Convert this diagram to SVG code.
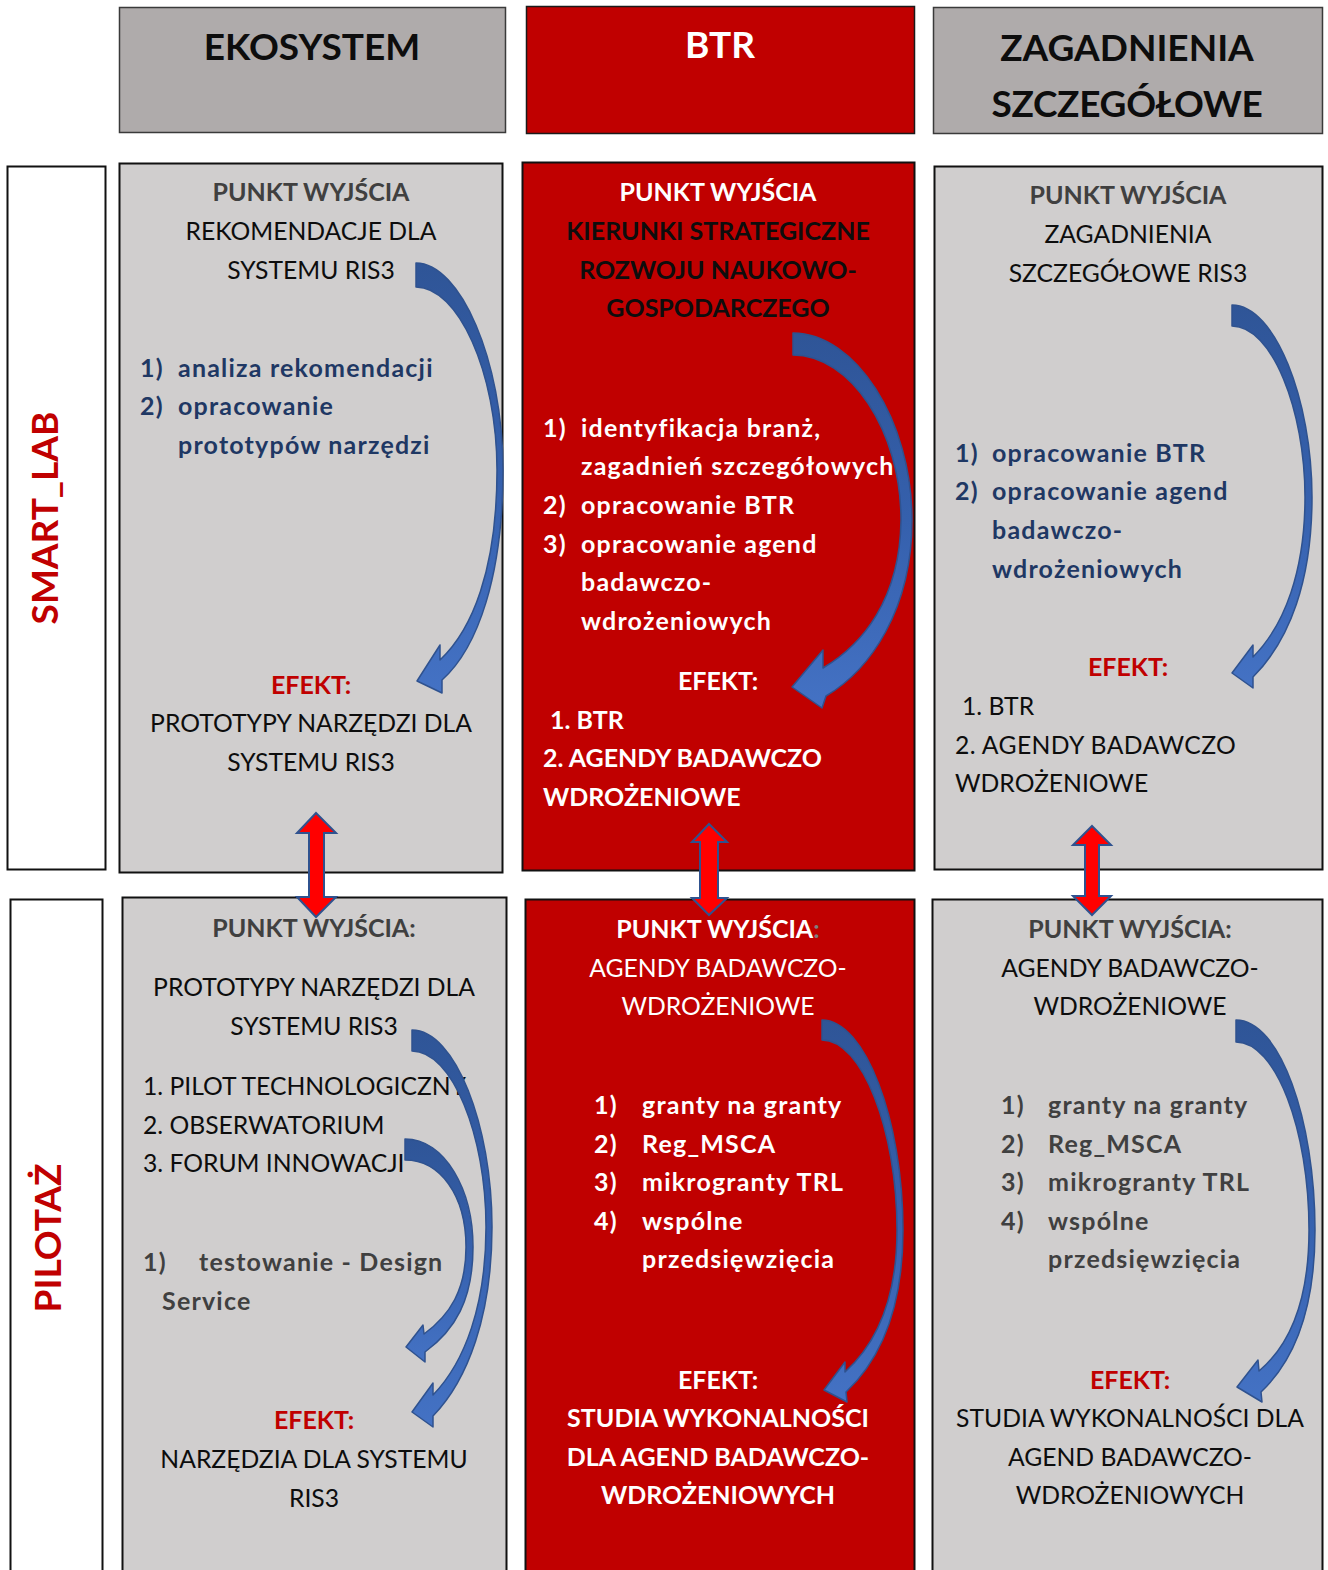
<svg xmlns="http://www.w3.org/2000/svg" width="1328" height="1570" viewBox="0 0 1328 1570">
<defs>
<style>
text{font-family:Lato,"Open Sans","Liberation Sans",sans-serif;font-size:24.7px;fill:#0d0d0d}
.c{text-anchor:middle}
.b{font-weight:bold;font-size:25px;letter-spacing:0px}
.l{font-weight:bold;font-size:25px;letter-spacing:1.2px}
.hd{font-size:37px;font-weight:bold;text-anchor:middle}
.side{font-size:37px;font-weight:bold;fill:#c00000;text-anchor:middle}
.pw{fill:#404040}
.nv{fill:#1f3864}
.gy{fill:#404040}
.ef{fill:#c00000}
.w{fill:#ffffff}
.grayH{fill:#afabab;stroke:#3a3a3a;stroke-width:1.5}
.redH{fill:#c00000;stroke:#1a1a1a;stroke-width:1.5}
.cellG{fill:#d0cece;stroke:#111;stroke-width:2}
.cellR{fill:#c00000;stroke:#111;stroke-width:2}
.lab{fill:#ffffff;stroke:#111;stroke-width:2}
.carrow{fill:url(#bg);stroke:#2f528f;stroke-width:1.5;stroke-linejoin:round}
.darrow{fill:#ff0000;stroke:#2f528f;stroke-width:2;stroke-linejoin:miter}
</style>
<linearGradient id="bg" x1="0" y1="0" x2="0" y2="1">
<stop offset="0" stop-color="#2f5597"/>
<stop offset="0.5" stop-color="#3560ad"/>
<stop offset="1" stop-color="#4472c4"/>
</linearGradient>
</defs>
<rect width="1328" height="1570" fill="#ffffff"/>

<g id="hdr-ekosystem">
<rect class="grayH" x="119.5" y="7.5" width="386" height="125"/>
<text class="hd" x="312" y="60">EKOSYSTEM</text>
</g>
<g id="hdr-btr">
<rect class="redH" x="526.5" y="6.5" width="388" height="127"/>
<text class="hd w" x="720" y="58">BTR</text>
</g>
<g id="hdr-zagadnienia">
<rect class="grayH" x="933.5" y="7.5" width="389" height="126"/>
<text class="hd" x="1127" y="61">ZAGADNIENIA</text>
<text class="hd" x="1127" y="117" letter-spacing="-0.3">SZCZEGÓŁOWE</text>
</g>

<g id="label-smartlab">
<rect class="lab" x="7.5" y="166.5" width="98" height="703"/>
<text class="side" transform="translate(58,518) rotate(-90)">SMART_LAB</text>
</g>
<g id="label-pilotaz">
<rect class="lab" x="10.5" y="899.5" width="92" height="680"/>
<text class="side" transform="translate(61,1238) rotate(-90)">PILOTAŻ</text>
</g>

<g id="cell-smartlab-ekosystem">
<rect class="cellG" x="119.5" y="163.5" width="383" height="709"/>
<text class="c b pw" x="311" y="201">PUNKT WYJŚCIA</text>
<text class="c" x="311" y="240">REKOMENDACJE DLA</text>
<text class="c" x="311" y="279">SYSTEMU RIS3</text>
<text class="l nv" x="140" y="377">1)</text><text class="l nv" x="178" y="377">analiza rekomendacji</text>
<text class="l nv" x="140" y="415">2)</text><text class="l nv" x="178" y="415">opracowanie</text>
<text class="l nv" x="178" y="454">prototypów narzędzi</text>
<text class="c b ef" x="311" y="694">EFEKT:</text>
<text class="c" x="311" y="732">PROTOTYPY NARZĘDZI DLA</text>
<text class="c" x="311" y="771">SYSTEMU RIS3</text>
</g>

<g id="cell-smartlab-btr">
<rect class="cellR" x="522.5" y="162.5" width="392" height="708"/>
<text class="c b w" x="718" y="201">PUNKT WYJŚCIA</text>
<text class="c b" x="718" y="240">KIERUNKI STRATEGICZNE</text>
<text class="c b" x="718" y="279">ROZWOJU NAUKOWO-</text>
<text class="c b" x="718" y="317">GOSPODARCZEGO</text>
<text class="l w" x="543" y="437">1)</text><text class="l w" x="581" y="437">identyfikacja branż,</text>
<text class="l w" x="581" y="475">zagadnień szczegółowych</text>
<text class="l w" x="543" y="514">2)</text><text class="l w" x="581" y="514">opracowanie BTR</text>
<text class="l w" x="543" y="553">3)</text><text class="l w" x="581" y="553">opracowanie agend</text>
<text class="l w" x="581" y="591">badawczo-</text>
<text class="l w" x="581" y="630">wdrożeniowych</text>
<text class="c b w" x="718" y="690">EFEKT:</text>
<text class="b w" x="550" y="729">1. BTR</text>
<text class="b w" x="543" y="767" letter-spacing="0.6">2. AGENDY BADAWCZO</text>
<text class="b w" x="543" y="806">WDROŻENIOWE</text>
</g>

<g id="cell-smartlab-zagadnienia">
<rect class="cellG" x="934.5" y="166.5" width="388" height="703"/>
<text class="c b pw" x="1128" y="204">PUNKT WYJŚCIA</text>
<text class="c" x="1128" y="243">ZAGADNIENIA</text>
<text class="c" x="1128" y="282">SZCZEGÓŁOWE RIS3</text>
<text class="l nv" x="955" y="462">1)</text><text class="l nv" x="992" y="462">opracowanie BTR</text>
<text class="l nv" x="955" y="500">2)</text><text class="l nv" x="992" y="500">opracowanie agend</text>
<text class="l nv" x="992" y="539">badawczo-</text>
<text class="l nv" x="992" y="578">wdrożeniowych</text>
<text class="c b ef" x="1128" y="676">EFEKT:</text>
<text x="962" y="715">1. BTR</text>
<text x="955" y="754" letter-spacing="0.4">2. AGENDY BADAWCZO</text>
<text x="955" y="792">WDROŻENIOWE</text>
</g>

<g id="cell-pilotaz-ekosystem">
<rect class="cellG" x="122.5" y="897.5" width="384" height="682"/>
<text class="c b pw" x="314" y="937">PUNKT WYJŚCIA:</text>
<text class="c" x="314" y="996">PROTOTYPY NARZĘDZI DLA</text>
<text class="c" x="314" y="1035">SYSTEMU RIS3</text>
<text x="143" y="1095">1. PILOT TECHNOLOGICZNY</text>
<text x="143" y="1134">2. OBSERWATORIUM</text>
<text x="143" y="1172">3. FORUM INNOWACJI</text>
<text class="l gy" x="143" y="1271">1)</text><text class="l gy" x="199" y="1271">testowanie - Design</text>
<text class="l gy" x="162" y="1310">Service</text>
<text class="c b ef" x="314" y="1429">EFEKT:</text>
<text class="c" x="314" y="1468">NARZĘDZIA DLA SYSTEMU</text>
<text class="c" x="314" y="1507">RIS3</text>
</g>

<g id="cell-pilotaz-btr">
<rect class="cellR" x="525.5" y="899.5" width="389" height="680"/>
<text class="c b w" x="718" y="938">PUNKT WYJŚCIA<tspan fill="#7f7f7f">:</tspan></text>
<text class="c w" x="718" y="977">AGENDY BADAWCZO-</text>
<text class="c w" x="718" y="1015">WDROŻENIOWE</text>
<text class="l w" x="594" y="1114">1)</text><text class="l w" x="642" y="1114">granty na granty</text>
<text class="l w" x="594" y="1153">2)</text><text class="l w" x="642" y="1153">Reg_MSCA</text>
<text class="l w" x="594" y="1191">3)</text><text class="l w" x="642" y="1191">mikrogranty TRL</text>
<text class="l w" x="594" y="1230">4)</text><text class="l w" x="642" y="1230">wspólne</text>
<text class="l w" x="642" y="1268">przedsięwzięcia</text>
<text class="c b w" x="718" y="1389">EFEKT:</text>
<text class="c b w" x="718" y="1427">STUDIA WYKONALNOŚCI</text>
<text class="c b w" x="718" y="1466">DLA AGEND BADAWCZO-</text>
<text class="c b w" x="718" y="1504">WDROŻENIOWYCH</text>
</g>

<g id="cell-pilotaz-zagadnienia">
<rect class="cellG" x="932.5" y="899.5" width="390" height="680"/>
<text class="c b pw" x="1130" y="938">PUNKT WYJŚCIA:</text>
<text class="c" x="1130" y="977">AGENDY BADAWCZO-</text>
<text class="c" x="1130" y="1015">WDROŻENIOWE</text>
<text class="l gy" x="1001" y="1114">1)</text><text class="l gy" x="1048" y="1114">granty na granty</text>
<text class="l gy" x="1001" y="1153">2)</text><text class="l gy" x="1048" y="1153">Reg_MSCA</text>
<text class="l gy" x="1001" y="1191">3)</text><text class="l gy" x="1048" y="1191">mikrogranty TRL</text>
<text class="l gy" x="1001" y="1230">4)</text><text class="l gy" x="1048" y="1230">wspólne</text>
<text class="l gy" x="1048" y="1268">przedsięwzięcia</text>
<text class="c b ef" x="1130" y="1389">EFEKT:</text>
<text class="c" x="1130" y="1427">STUDIA WYKONALNOŚCI DLA</text>
<text class="c" x="1130" y="1466">AGEND BADAWCZO-</text>
<text class="c" x="1130" y="1504">WDROŻENIOWYCH</text>
</g>

<g id="connectors">
<path class="carrow" d="M416,263 C460,263 503,360 503,470 C503,575 478,648 442,680 L442,693 L417,681 L440,645 L440,660 C472,630 497,570 497,470 C497,372 458,287 416,287 Z"/>
<path class="carrow" d="M793,333 C855,333 912,420 912,520 C912,610 870,670 826,696 L822,708 L792,687 L823,650 L823,668 C862,645 900,600 901,520 C901,430 850,355 793,355 Z"/>
<path class="carrow" d="M1232,305 C1275,305 1312,400 1312,497 C1312,580 1290,640 1253,677 L1253,688 L1232,673 L1253,645 L1253,657 C1285,625 1305,570 1305,497 C1305,410 1272,326 1232,326 Z"/>
<path class="carrow" d="M412,1030 C455,1030 492,1125 492,1227 C492,1315 468,1380 433,1416 L433,1427 L412,1412 L433,1383 L433,1395 C465,1362 486,1305 486,1227 C486,1135 452,1051 412,1051 Z"/>
<path class="carrow" d="M405,1139 C445,1139 473,1190 473,1247 C473,1300 455,1330 425,1352 L425,1362 L406,1347 L423,1325 L424,1334 C450,1315 466,1290 466,1247 C466,1195 440,1160 405,1160 Z"/>
<path class="carrow" d="M822,1020 C865,1020 903,1120 903,1230 C903,1310 880,1360 846,1392 L847,1402 L824,1390 L845,1362 L845,1372 C875,1345 897,1300 897,1230 C897,1130 862,1040 822,1040 Z"/>
<path class="carrow" d="M1236,1020 C1280,1020 1315,1120 1315,1230 C1315,1310 1295,1360 1261,1392 L1262,1402 L1237,1387 L1258,1360 L1259,1371 C1290,1345 1309,1300 1309,1230 C1309,1130 1276,1042 1236,1042 Z"/>
<path class="darrow" d="M316,813 L336,833 L324,833 L324,897 L336,897 L316,917 L297,897 L309,897 L309,833 L297,833 Z"/>
<path class="darrow" d="M709,824 L727,842 L718,842 L718,898 L727,898 L709,915 L692,898 L700,898 L700,842 L692,842 Z"/>
<path class="darrow" d="M1092,826 L1111,845 L1099,845 L1099,896 L1111,896 L1092,915 L1073,896 L1085,896 L1085,845 L1073,845 Z"/>
</g>
</svg>
